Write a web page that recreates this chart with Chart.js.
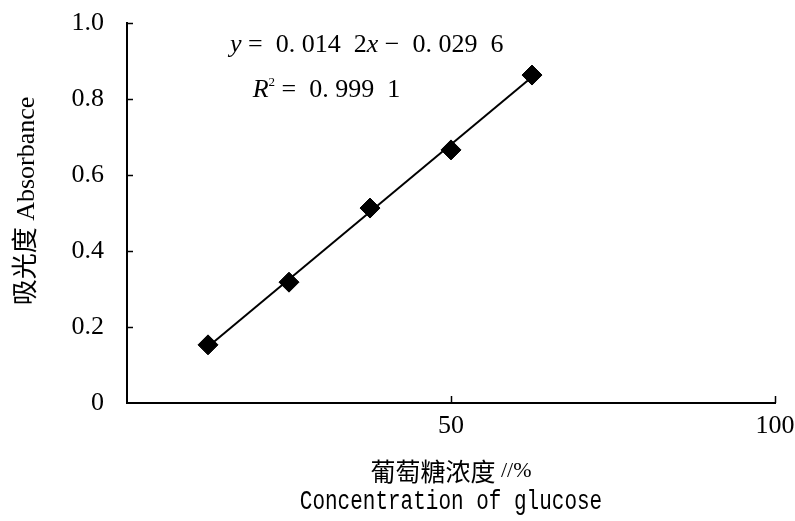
<!DOCTYPE html>
<html>
<head>
<meta charset="utf-8">
<script src="https://cdn.jsdelivr.net/npm/chart.js@4.4.1/dist/chart.umd.min.js"></script>
<style>
  html, body { margin: 0; padding: 0; background: #fff; }
  #wrap { width: 795px; height: 521px; }
</style>
</head>
<body>
<div id="wrap"><canvas id="c" width="795" height="521"></canvas></div>
<script>
// glucose concentration (%) and absorbance
const concentration = [12.5, 25, 37.5, 50, 62.5];
const absorbance = [0.153, 0.318, 0.513, 0.666, 0.863];
// fitted line, as printed on the chart
const slope = 0.0142;
const intercept = -0.0296;
const fitRange = [12.5, 62.5];

const yTitle = '吸光度 Absorbance';
const xTitleCn = '葡萄糖浓度';
const xTitleUnit = ' //%';
const xTitleEn = 'Concentration of glucose';
const monoFont = '"Liberation Mono", monospace';
const serifFont = '"Liberation Serif", "Noto Sans CJK SC", serif';
const cjkFont = '"Noto Sans CJK SC", sans-serif';

const fitPoints = fitRange.map(x => ({ x, y: slope * x + intercept }));

// inward tick marks, axis titles and the equation text
const extras = {
    id: 'extras',
    afterDraw(chart) {
        const { ctx, chartArea, scales: { x, y } } = chart;
        ctx.save();
        ctx.strokeStyle = '#000';
        ctx.lineWidth = 1.5;
        [0.2, 0.4, 0.6, 0.8, 1.0].forEach(v => {
            const py = Math.round(y.getPixelForValue(v)) + 0.5;
            ctx.beginPath();
            ctx.moveTo(x.left, py);
            ctx.lineTo(x.left + 6, py);
            ctx.stroke();
        });
        [50, 100].forEach(v => {
            const px = Math.round(x.getPixelForValue(v)) + 0.5;
            ctx.beginPath();
            ctx.moveTo(px, y.bottom);
            ctx.lineTo(px, y.bottom - 7);
            ctx.stroke();
        });

        ctx.fillStyle = '#000';
        const cx = (chartArea.left + chartArea.right) / 2;

        // x title, two lines
        ctx.textBaseline = 'middle';
        ctx.font = '25px ' + cjkFont;
        const wCn = ctx.measureText(xTitleCn).width;
        ctx.font = '22px ' + serifFont;
        const wUnit = ctx.measureText(xTitleUnit).width;
        const sx = cx - (wCn + wUnit) / 2;
        ctx.textAlign = 'left';
        ctx.font = '25px ' + cjkFont;
        ctx.fillText(xTitleCn, sx, chartArea.bottom + 68);
        ctx.font = '22px ' + serifFont;
        ctx.fillText(xTitleUnit, sx + wCn, chartArea.bottom + 68);
        ctx.save();
        ctx.translate(cx, chartArea.bottom + 99);
        ctx.scale(1, 1.3);
        ctx.textAlign = 'center';
        ctx.font = '21px ' + monoFont;
        ctx.fillText(xTitleEn, 0, 0);
        ctx.restore();

        // y title, rotated
        ctx.save();
        ctx.translate(27, 201);
        ctx.rotate(-Math.PI / 2);
        ctx.textAlign = 'center';
        ctx.font = '26px ' + serifFont;
        ctx.fillText(yTitle, 0, 0);
        ctx.restore();

        // equation
        ctx.textAlign = 'left';
        ctx.textBaseline = 'alphabetic';
        const parts = (arr, px, py) => {
            let cxp = px;
            arr.forEach(([txt, font, dy]) => {
                ctx.font = font;
                ctx.fillText(txt, cxp, py + (dy || 0));
                cxp += ctx.measureText(txt).width;
            });
        };
        const reg = '26px ' + serifFont;
        const ita = 'italic 26px ' + serifFont;
        parts([
            ['y', ita], [' =  0. 014  2', reg], ['x', ita], [' −  0. 029  6', reg]
        ], x.getPixelForValue(15.9), y.getPixelForValue(0.924));
        parts([
            ['R', ita], ['2', '13px ' + serifFont, -11], [' =  0. 999  1', reg]
        ], x.getPixelForValue(19.4), y.getPixelForValue(0.805));
        ctx.restore();
    }
};

new Chart(document.getElementById('c'), {
    type: 'scatter',
    data: {
        datasets: [
            {
                label: 'fit',
                data: fitPoints,
                showLine: true,
                borderColor: '#000',
                borderWidth: 2,
                pointRadius: 0
            },
            {
                label: 'absorbance',
                data: concentration.map((c, i) => ({ x: c, y: absorbance[i] })),
                pointStyle: 'rectRot',
                pointRadius: 10,
                borderWidth: 1,
                backgroundColor: '#000',
                borderColor: '#000'
            }
        ]
    },
    options: {
        responsive: false,
        animation: false,
        layout: { padding: { top: 23, right: 20, left: 0, bottom: 0 } },
        plugins: { legend: { display: false }, tooltip: { enabled: false } },
        scales: {
            x: {
                type: 'linear',
                min: 0,
                max: 100,
                afterFit: s => { s.height = 118; s.paddingLeft = 0; s.paddingRight = 0; },
                border: { color: '#000', width: 2 },
                grid: { display: false },
                ticks: {
                    stepSize: 50,
                    color: '#000',
                    padding: 0,
                    maxRotation: 0,
                    font: { family: serifFont, size: 26 },
                    callback: v => (v === 0 ? '' : String(v))
                }
            },
            y: {
                type: 'linear',
                min: 0,
                max: 1.0,
                afterFit: s => { s.width = 127; s.paddingTop = 0; s.paddingBottom = 0; },
                border: { color: '#000', width: 2 },
                grid: { display: false },
                ticks: {
                    stepSize: 0.2,
                    color: '#000',
                    padding: 15,
                    font: { family: serifFont, size: 26 },
                    callback: v => (v === 0 ? '0' : v.toFixed(1))
                }
            }
        }
    },
    plugins: [extras]
});
</script>
</body>
</html>
